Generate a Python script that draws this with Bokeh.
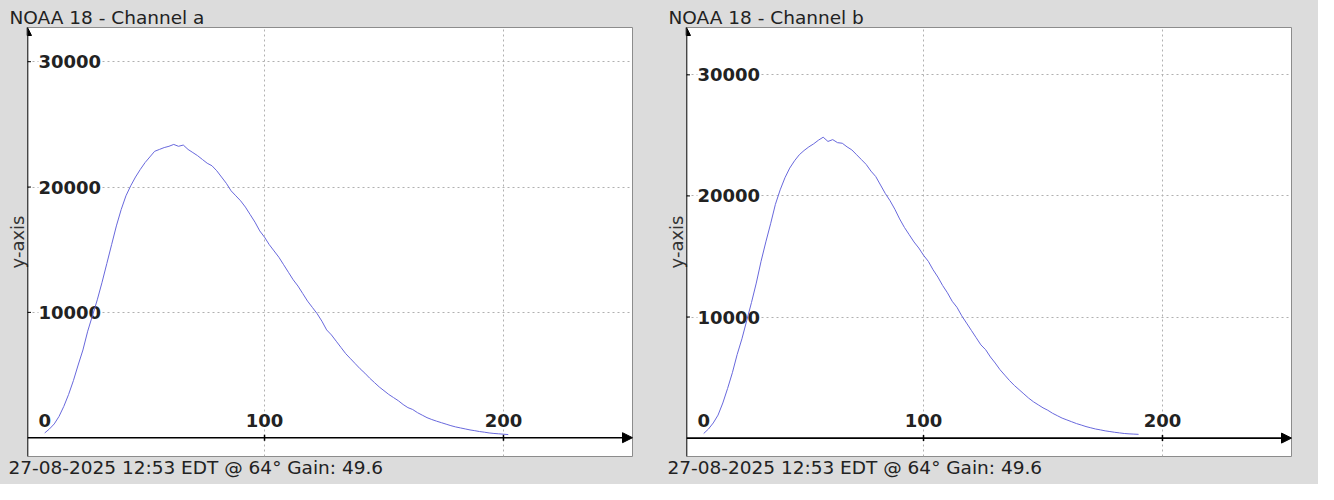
import math
from bokeh.plotting import figure
from bokeh.layouts import row
from bokeh.models import (Range1d, Grid, FixedTicker, Arrow, NormalHead, Title,
                          LabelSet, ColumnDataSource)
from bokeh.core.properties import value
from bokeh.embed import file_html
from bokeh.resources import INLINE

# ---------------- data ----------------
chan_a_x = list(range(8, 203, 2))
chan_a_y = [380, 700, 1100, 1700, 2500, 3450, 4550, 5800, 7000, 8500,
            9750, 11000, 12400, 13900, 15400, 16900, 18200, 19300, 20100, 20800,
            21400, 21950, 22400, 22850, 23000, 23150, 23250, 23400, 23250, 23350,
            23000, 22750, 22500, 22200, 21900, 21700, 21300, 20800, 20300, 19700,
            19300, 18900, 18400, 17800, 17200, 16500, 16000, 15400, 14900, 14400,
            13800, 13200, 12600, 12100, 11500, 10900, 10400, 9900, 9300, 8600,
            8200, 7700, 7200, 6700, 6300, 5900, 5500, 5150, 4750, 4400,
            4050, 3750, 3450, 3200, 2950, 2650, 2400, 2250, 2000, 1800,
            1600, 1450, 1320, 1200, 1080, 960, 860, 780, 700, 620,
            560, 490, 440, 380, 340, 310, 280, 250]

chan_b_x = list(range(8, 191, 2))
chan_b_y = [380, 750, 1250, 1900, 2900, 4100, 5400, 6900, 8200, 9700,
            11200, 12800, 14600, 16200, 17700, 19300, 20500, 21500, 22300, 22900,
            23400, 23750, 24050, 24300, 24600, 24850, 24500, 24650, 24400, 24350,
            24050, 23800, 23400, 23000, 22600, 22050, 21600, 20900, 20200, 19600,
            18900, 18100, 17400, 16800, 16200, 15700, 15100, 14600, 13900, 13300,
            12600, 12000, 11300, 10800, 10100, 9500, 8900, 8300, 7700, 7300,
            6700, 6200, 5650, 5200, 4750, 4350, 4000, 3650, 3300, 3000,
            2750, 2500, 2300, 2050, 1850, 1650, 1500, 1350, 1200, 1080,
            950, 850, 750, 680, 600, 540, 480, 430, 380, 350,
            330, 310]

x_ticks = [0, 100, 200]
x_tick_labels = ["0", "100", "200"]
y_ticks = [10000, 20000, 30000]
y_tick_labels = ["10000", "20000", "30000"]

titles = ["NOAA 18 - Channel a", "NOAA 18 - Channel b"]
footer = "27-08-2025 12:53 EDT @ 64\u00b0 Gain: 49.6"
y_label = "y-axis"

# ---------------- style ----------------
W, H = 659, 484
BL, BR, BT, BB = 27, 27, 27, 28
BG = "#dcdcdc"
X_LO, X_HI = 0.8, 254
LINE_COLOR = "#6868dc"
TXT = "#222222"
FONT = "DejaVu Sans"


def tick_labels(p, xs, ys, texts, x_off, y_off, align, baseline):
    src = ColumnDataSource(dict(x=xs, y=ys, t=texts))
    p.add_layout(LabelSet(x="x", y="y", text="t", source=src, x_offset=x_off, y_offset=y_off,
                          text_align=align, text_baseline=baseline,
                          text_font=value(FONT), text_font_size="18px",
                          text_font_style="bold", text_color=TXT,
                          background_fill_color="white", level="underlay"))


def make_panel(title, xs, ys, y_lo, y_hi):
    p = figure(width=W, height=H, x_range=Range1d(X_LO, X_HI), y_range=Range1d(y_lo, y_hi),
               x_axis_type=None, y_axis_type=None, toolbar_location=None,
               output_backend="svg", min_border_left=BL, min_border_right=BR,
               min_border_top=BT, min_border_bottom=BB, border_fill_color=BG,
               background_fill_color="white", outline_line_color="#8c8c8c")

    p.title = Title(text=title, align="left", offset=-18, standoff=0, vertical_align="bottom",
                    text_font=FONT, text_font_size="18.5px", text_font_style="normal",
                    text_color=TXT)
    p.add_layout(Title(text=footer, align="left", offset=-19, standoff=0, vertical_align="top",
                       text_font=FONT, text_font_size="18.5px", text_font_style="normal",
                       text_color=TXT), "below")
    p.add_layout(Title(text=y_label, align="center", standoff=0, vertical_align="bottom",
                       text_font=FONT, text_font_size="18px", text_font_style="normal",
                       text_color="#333333"), "left")

    p.add_layout(Grid(dimension=0, ticker=FixedTicker(ticks=x_ticks),
                      grid_line_color="#b0b0b0", grid_line_dash="2 3"))
    p.add_layout(Grid(dimension=1, ticker=FixedTicker(ticks=y_ticks),
                      grid_line_color="#b0b0b0", grid_line_dash="2 3"))

    # y tick labels, inside the frame right of the axis
    tick_labels(p, [X_LO] * len(y_ticks), y_ticks, y_tick_labels, 11, 0, "left", "middle")

    # x tick labels above the axis; ticks left of the range are pinned to the axis
    inside = [(t, s) for t, s in zip(x_ticks, x_tick_labels) if t >= X_LO]
    pinned = [(t, s) for t, s in zip(x_ticks, x_tick_labels) if t < X_LO]
    tick_labels(p, [t for t, _ in inside], [0] * len(inside), [s for _, s in inside],
                0, 11, "center", "alphabetic")
    tick_labels(p, [X_LO] * len(pinned), [0] * len(pinned), [s for _, s in pinned],
                11, 11, "left", "alphabetic")

    # tick marks
    p.scatter(x=[X_LO] * len(y_ticks), y=y_ticks, marker="dash", size=7,
              line_color="black", line_width=1)
    p.scatter(x=[t for t, _ in inside], y=[0] * len(inside), marker="dash",
              angle=math.pi / 2, size=6, line_color="black", line_width=1.5)

    # data
    p.line(xs, ys, line_color=LINE_COLOR, line_width=1)

    # axes with arrows
    p.add_layout(Arrow(x_start=X_LO, y_start=0, x_end=X_HI, y_end=0,
                       line_color="black", line_width=1.6,
                       end=NormalHead(size=10, fill_color="black", line_color="black")))
    p.add_layout(Arrow(x_start=X_LO, y_start=y_lo, x_end=X_LO, y_end=y_hi,
                       line_color="black", line_width=1.6,
                       end=NormalHead(size=8, fill_color="black", line_color="black")))
    return p


p1 = make_panel(titles[0], chan_a_x, chan_a_y, -1500, 32730)
p2 = make_panel(titles[1], chan_b_x, chan_b_y, -1520, 33910)

layout = row(p1, p2, spacing=0, styles={"background-color": BG})
open("out.html", "w").write(file_html(layout, INLINE))
